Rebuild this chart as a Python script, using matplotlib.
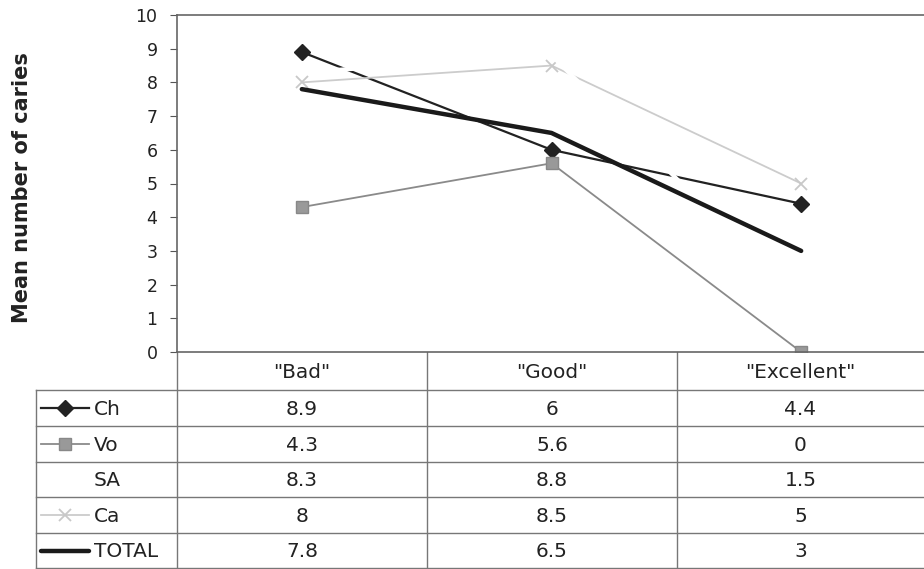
import numpy as np
import matplotlib.pyplot as plt

categories = ['"Bad"', '"Good"', '"Excellent"']
series_names = ['Ch', 'Vo', 'SA', 'Ca', 'TOTAL']
ch = [8.9, 6, 4.4]
vo = [4.3, 5.6, 0]
sa = [8.3, 8.8, 1.5]
ca = [8, 8.5, 5]
total = [7.8, 6.5, 3]
all_vals = [ch, vo, sa, ca, total]

styles = {
    'Ch': dict(color='#222222', lw=1.6, marker='D', ms=8, mfc='#222222', mec='#222222'),
    'Vo': dict(color='#8a8a8a', lw=1.3, marker='s', ms=8, mfc='#999999', mec='#888888'),
    'SA': dict(color='white', lw=3.0, marker=None),
    'Ca': dict(color='#cccccc', lw=1.3, marker='x', ms=8, mew=1.3, mec='#c8c8c8'),
    'TOTAL': dict(color='#1a1a1a', lw=3.2, marker=None),
}

W, H = 924, 569
fig = plt.figure(figsize=(W / 100, H / 100), dpi=100)
plt.rcParams['font.family'] = 'DejaVu Sans'
fs = 14.5

left, right, top, bot = 177, 926, 15, 352
ax = fig.add_axes([left / W, 1 - bot / H, (right - left) / W, (bot - top) / H])
x = np.arange(len(categories))
for name in ['Ch', 'Vo', 'Ca', 'SA', 'TOTAL']:
    ax.plot(x, all_vals[series_names.index(name)], solid_capstyle='round', **styles[name])
ax.set_xlim(-0.5, 2.5)
ax.set_ylim(0, 10)
ax.set_yticks(range(0, 11))
ax.tick_params(axis='y', labelsize=12.5, labelcolor='#222222', length=5, direction='out',
               color='#555555', pad=9)
ax.set_xticks([])
for s in ax.spines.values():
    s.set_color('#666666')
    s.set_linewidth(1.2)
fig.text(22 / W, 1 - 188 / H, 'Mean number of caries', rotation=90, ha='center', va='center',
         fontsize=15, fontweight='bold', color='#222222')

# data table drawn in pixel coordinates
tab = fig.add_axes([0, 0, 1, 1], zorder=-1)
tab.set_xlim(0, W)
tab.set_ylim(H, 0)
tab.axis('off')
col_edges = [177, 427, 677, 924]
row_edges = [390, 426, 462, 497, 533, 568]
lc = '#777777'
# header row
for xe in col_edges[:-1]:
    tab.plot([xe, xe], [bot, row_edges[-1]], color=lc, lw=1)
for i, c in enumerate(categories):
    tab.text((col_edges[i] + col_edges[i + 1]) / 2, 372, c, ha='center', va='center',
             fontsize=fs, color='#222222')
# body rows
for ye in row_edges:
    tab.plot([36, 924], [ye, ye], color=lc, lw=1)
tab.plot([36, 36], [row_edges[0], row_edges[-1]], color=lc, lw=1)
for r, name in enumerate(series_names):
    yc = (row_edges[r] + row_edges[r + 1]) / 2
    st = dict(styles[name])
    if name != 'SA':
        if name == 'TOTAL':
            tab.plot([41, 89], [yc, yc], solid_capstyle='round', **st)
        else:
            mk = {k: st.pop(k) for k in ['marker', 'ms', 'mfc', 'mec', 'mew'] if k in st}
            tab.plot([41, 89], [yc, yc], **st)
            tab.plot([65], [yc], ls='none', **mk)
    tab.text(94, yc + 1, name, ha='left', va='center', fontsize=fs, color='#222222')
    for i, v in enumerate(all_vals[r]):
        tab.text((col_edges[i] + col_edges[i + 1]) / 2, yc + 1, f'{v:g}', ha='center',
                 va='center', fontsize=fs, color='#222222')

fig.savefig('out.png', dpi=100)
